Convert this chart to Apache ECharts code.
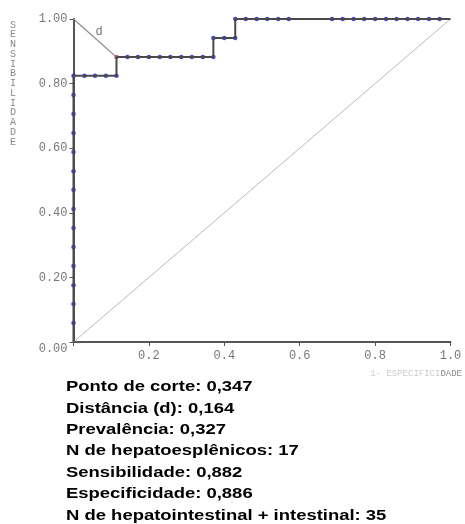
<!DOCTYPE html>
<html><head><meta charset="utf-8">
<script src="https://cdn.jsdelivr.net/npm/echarts@6/dist/echarts.min.js"></script>
<style>html,body{margin:0;padding:0;background:#fff}#c{width:465px;height:524px}</style>
</head><body><div id="c"></div>
<script>
// ROC step curve vertices (1 - especificidade, sensibilidade)
const curveX = [0, 0, 0.114, 0.114, 0.371, 0.371, 0.429, 0.429, 1.0];
const curveY = [0, 0.824, 0.824, 0.882, 0.882, 0.941, 0.941, 1.0, 1.0];
// observed points (dots)
const dotX = [0,0,0,0,0,0,0,0,0,0,0,0,0,0,
  0.029,0.057,0.086,0.114,
  0.143,0.171,0.200,0.229,0.257,0.286,0.314,0.343,0.371,
  0.371,0.400,0.429,
  0.429,0.457,0.486,0.514,0.543,0.571,
  0.686,0.714,0.743,0.771,0.800,0.829,0.857,0.886,0.914,0.943,0.971];
const dotY = [0.059,0.118,0.176,0.235,0.294,0.353,0.412,0.471,0.529,0.588,0.647,0.706,0.765,0.824,
  0.824,0.824,0.824,0.824,
  0.882,0.882,0.882,0.882,0.882,0.882,0.882,0.882,0.882,
  0.941,0.941,0.941,
  1,1,1,1,1,1,
  1,1,1,1,1,1,1,1,1,1,1];
const cutX = [0.114], cutY = [0.882];
const diagX = [0, 1], diagY = [0, 1];
const dX = [0, 0.114], dY = [1, 0.882];
const xTicks = ['', '0.2', '0.4', '0.6', '0.8', '1.0'];
const yTicks = ['0.00', '0.20', '0.40', '0.60', '0.80', '1.00'];
const yTitle = 'SENSIBILIDADE';
const infoLines = [
  'Ponto de corte: 0,347',
  'Distância (d): 0,164',
  'Prevalência: 0,327',
  'N de hepatoesplênicos: 17',
  'Sensibilidade: 0,882',
  'Especificidade: 0,886',
  'N de hepatointestinal + intestinal: 35'
];

const zip = (a, b) => a.map((v, i) => [v, b[i]]);
const mono = 'Liberation Mono, Courier New, monospace';
const chart = echarts.init(document.getElementById('c'), null, {renderer: 'canvas'});
const graphics = [
  {type: 'text', left: 10, top: 20, style: {text: yTitle.split('').join('\n'), font: '10px ' + mono, fill: '#888', lineHeight: 9.75, align: 'center'}},
  {type: 'text', right: 3, top: 369, style: {text: '{a|1- ESPECIFICI}{b|DADE}', rich: {a: {fill: '#ccc', font: '9px ' + mono}, b: {fill: '#888', font: '9px ' + mono}}}}
];
infoLines.forEach((t, i) => {
  graphics.push({type: 'text', x: 66, y: 379.5 + i * 21.4, scaleX: 1.23,
    style: {text: t, font: 'bold 15px Liberation Sans, Arial, sans-serif', fill: '#000', textVerticalAlign: 'top'}});
});
chart.setOption({
  animation: false,
  grid: {left: 73.5, right: 14.5, top: 19, bottom: 182},
  xAxis: {type: 'value', min: 0, max: 1, interval: 0.2,
    axisLine: {show: true, onZero: false, lineStyle: {color: '#555', width: 2}},
    axisTick: {show: true, length: 4, lineStyle: {color: '#555'}},
    splitLine: {show: false},
    axisLabel: {margin: 8, color: '#777', fontFamily: mono, fontSize: 12,
      formatter: (v) => xTicks[Math.round(v / 0.2)] || ''}},
  yAxis: {type: 'value', min: 0, max: 1, interval: 0.2,
    axisLine: {show: true, onZero: false, lineStyle: {color: '#555', width: 2}},
    axisTick: {show: true, length: 4, lineStyle: {color: '#555'}},
    splitLine: {show: false},
    axisLabel: {margin: 6, color: '#777', fontFamily: mono, fontSize: 12,
      formatter: (v) => { const s = yTicks[Math.round(v / 0.2)]; return v === 0 ? '{low|' + s + '}' : s; },
      rich: {low: {padding: [14, 0, 0, 0], color: '#777', fontFamily: mono, fontSize: 12}}}},
  graphic: graphics,
  series: [
    {type: 'line', data: zip(diagX, diagY), symbol: 'none', lineStyle: {color: '#bbb', width: 1}, silent: true},
    {type: 'line', data: zip(dX, dY), symbol: 'none', lineStyle: {color: '#888', width: 1.2}, silent: true,
      markPoint: {symbol: 'circle', symbolSize: 1, itemStyle: {color: 'transparent'},
        label: {show: true, formatter: 'd', color: '#777', fontFamily: mono, fontSize: 12, offset: [4, -6]},
        data: [{coord: [0.057, 0.941]}]}},
    {type: 'line', data: zip(curveX, curveY), symbol: 'none', lineStyle: {color: '#4a4a4a', width: 2}, silent: true},
    {type: 'scatter', data: zip(dotX, dotY), symbol: 'circle', symbolSize: 4.5, itemStyle: {color: '#1c1cd0'}},
    {type: 'scatter', data: zip(cutX, cutY), symbol: 'circle', symbolSize: 4.5, itemStyle: {color: '#d0205a'}}
  ]
});
</script></body></html>
